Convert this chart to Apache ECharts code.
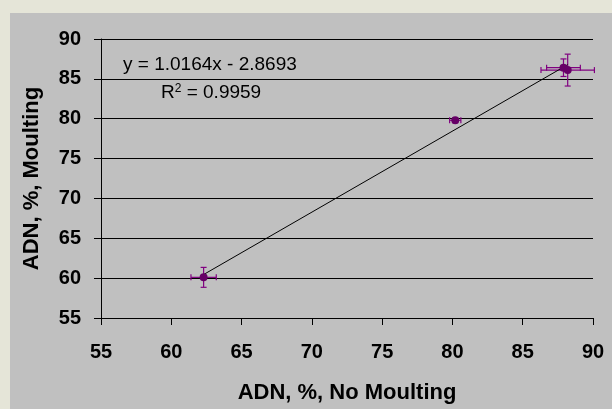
<!DOCTYPE html>
<html>
<head>
<meta charset="utf-8">
<script src="https://cdn.jsdelivr.net/npm/echarts@6/dist/echarts.min.js"></script>
<style>
  html, body { margin: 0; padding: 0; }
  #wrap { position: relative; width: 612px; height: 409px; background: #e5e5d8; overflow: hidden; }
  #panel { position: absolute; left: 10px; top: 13px; right: 0; bottom: 0; background: #c0c0c0; }
  #main { position: absolute; left: 0; top: 0; width: 612px; height: 409px; }
</style>
</head>
<body>
<div id="wrap">
  <div id="panel"></div>
  <div id="main"></div>
</div>
<script>
// values
var xValues = [62.3, 80.2, 87.9, 88.2];
var yValues = [60.1, 79.8, 86.4, 86.1];
var xErr = [0.9, 0.4, 1.2, 1.9];
var yErr = [1.25, 0.3, 1.1, 2.0];

// fitted line from the chart label
var slope = 1.0164;
var intercept = -2.8693;
var rSquared = 0.9959;

var axisTicks = [55, 60, 65, 70, 75, 80, 85, 90];

var FONT = '"Liberation Sans", Arial, sans-serif';

var points = xValues.map(function (x, i) {
    return [x, yValues[i], xErr[i], yErr[i]];
});
var xMin = Math.min.apply(null, xValues);
var xMax = Math.max.apply(null, xValues);
var trend = [
    [xMin, slope * xMin + intercept],
    [xMax, slope * xMax + intercept]
];

var myChart = echarts.init(document.getElementById('main'));

function errorBars(params, api) {
    var x = api.value(0), y = api.value(1);
    var ex = api.value(2), ey = api.value(3);
    var c = api.coord([x, y]);
    var l = api.coord([x - ex, y]), r = api.coord([x + ex, y]);
    var t = api.coord([x, y + ey]), b = api.coord([x, y - ey]);
    var cap = 3;
    var st = { stroke: '#800080', lineWidth: 1.2 };
    var seg = function (x1, y1, x2, y2) {
        return { type: 'line', shape: { x1: x1, y1: y1, x2: x2, y2: y2 }, style: st };
    };
    return {
        type: 'group',
        children: [
            seg(l[0], c[1], r[0], c[1]),
            seg(l[0], c[1] - cap, l[0], c[1] + cap),
            seg(r[0], c[1] - cap, r[0], c[1] + cap),
            seg(c[0], t[1], c[0], b[1]),
            seg(c[0] - cap, t[1], c[0] + cap, t[1]),
            seg(c[0] - cap, b[1], c[0] + cap, b[1])
        ]
    };
}

myChart.setOption({
    animation: false,
    backgroundColor: 'transparent',
    grid: { left: 101, right: 19, top: 39, bottom: 91 },
    xAxis: {
        type: 'value',
        min: axisTicks[0],
        max: axisTicks[axisTicks.length - 1],
        interval: 5,
        name: 'ADN, %, No Moulting',
        nameLocation: 'middle',
        nameGap: 64,
        nameTextStyle: { fontFamily: FONT, fontWeight: 'bold', fontSize: 22, color: '#000' },
        axisLine: { show: true, lineStyle: { color: '#000', width: 1 } },
        axisTick: { show: true, length: 7, lineStyle: { color: '#000' } },
        axisLabel: { margin: 24, fontFamily: FONT, fontWeight: 'bold', fontSize: 20, color: '#000' },
        splitLine: { show: false }
    },
    yAxis: {
        type: 'value',
        min: axisTicks[0],
        max: axisTicks[axisTicks.length - 1],
        interval: 5,
        name: 'ADN, %, Moulting',
        nameLocation: 'middle',
        nameGap: 58,
        nameTextStyle: { fontFamily: FONT, fontWeight: 'bold', fontSize: 22, color: '#000' },
        axisLine: { show: true, lineStyle: { color: '#000', width: 1 } },
        axisTick: { show: true, length: 7, lineStyle: { color: '#000' } },
        axisLabel: { margin: 20, fontFamily: FONT, fontWeight: 'bold', fontSize: 20, color: '#000' },
        splitLine: { show: true, lineStyle: { color: '#000', width: 1 } }
    },
    graphic: [
        {
            type: 'text',
            left: 123,
            top: 55,
            style: {
                text: 'y = ' + slope.toFixed(4) + 'x - ' + Math.abs(intercept).toFixed(4),
                font: '19px ' + FONT,
                fill: '#000'
            }
        },
        {
            type: 'text',
            left: 161,
            top: 83,
            style: {
                text: 'R{sup|2} = ' + rSquared.toFixed(4),
                font: '19px ' + FONT,
                fill: '#000',
                rich: {
                    sup: { fontSize: 12, fontFamily: FONT, verticalAlign: 'top', fill: '#000', lineHeight: 12 }
                }
            }
        }
    ],
    series: [
        {
            type: 'custom',
            name: 'errors',
            renderItem: errorBars,
            data: points,
            encode: { x: 0, y: 1 },
            z: 3
        },
        {
            type: 'line',
            name: 'trend',
            data: trend,
            showSymbol: false,
            symbol: 'none',
            lineStyle: { color: '#000', width: 1 },
            z: 4
        },
        {
            type: 'scatter',
            name: 'ADN',
            data: points.map(function (p) { return [p[0], p[1]]; }),
            symbol: 'circle',
            symbolSize: 8,
            itemStyle: { color: '#660066', opacity: 1 },
            z: 5
        }
    ]
});
</script>
</body>
</html>
